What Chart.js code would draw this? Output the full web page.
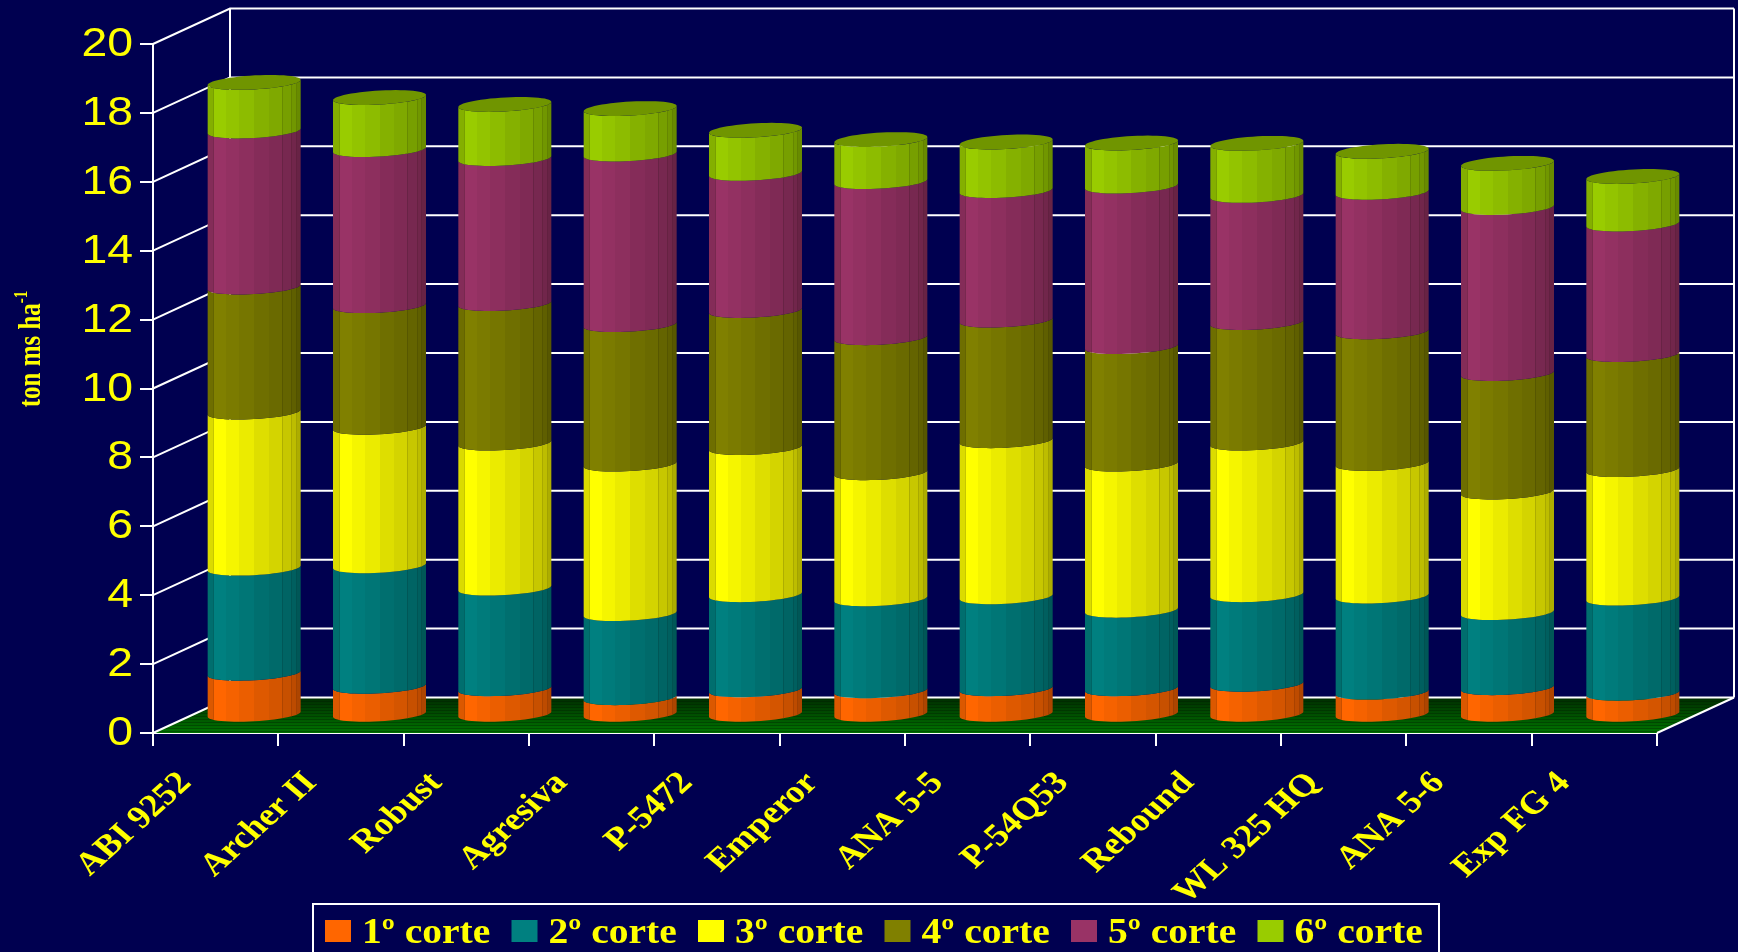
<!DOCTYPE html>
<html>
<head>
<meta charset="utf-8">
<title>Producción por corte</title>
<script src="https://cdn.jsdelivr.net/npm/chart.js@4"></script>
<style>
  html, body { margin: 0; padding: 0; background: #000050; overflow: hidden; }
  canvas { display: block; }
</style>
</head>
<body>
<canvas id="grafico" width="1738" height="952"></canvas>
<script>
const variedades = ["ABI 9252", "Archer II", "Robust", "Agresiva", "P-5472", "Emperor", "ANA 5-5", "P-54Q53", "Rebound", "WL 325 HQ", "ANA 5-6", "Exp FG 4"];
const corte1 = [1.22, 0.84, 0.77, 0.51, 0.74, 0.71, 0.77, 0.77, 0.90, 0.67, 0.80, 0.64];
const corte2 = [3.05, 3.50, 2.92, 2.44, 2.76, 2.67, 2.67, 2.28, 2.60, 2.79, 2.18, 2.76];
const corte3 = [4.53, 4.02, 4.21, 4.34, 4.27, 3.66, 4.53, 4.24, 4.40, 3.85, 3.50, 3.73];
const corte4 = [3.63, 3.53, 4.05, 4.05, 3.98, 3.92, 3.50, 3.41, 3.50, 3.82, 3.44, 3.34];
const corte5 = [4.53, 4.53, 4.21, 4.95, 3.98, 4.53, 3.76, 4.66, 3.69, 4.05, 4.82, 3.79];
const corte6 = [1.41, 1.51, 1.57, 1.32, 1.25, 1.22, 1.41, 1.25, 1.51, 1.19, 1.28, 1.38];
const nombres = ["1º corte", "2º corte", "3º corte", "4º corte", "5º corte", "6º corte"];
const colores = ["#FF6600", "#008080", "#FFFF00", "#808000", "#993366", "#99CC00"];
const tituloY = "ton ms ha";
const supTituloY = "-1";

const AMARILLO = "#FFFF00";
// vector de profundidad del grafico 3D
const fondoX = 77;
const fondoY = -35.5;
const radioFondo = 0.21;
// bandas de sombreado de cada cilindro (fraccion del ancho, brillo)
const cortesBanda = [0, 0.06, 0.2, 0.34, 0.5, 0.66, 0.8, 0.9, 0.95, 1];
const brillos = [0.86, 1, 0.96, 0.92, 0.87, 0.83, 0.78, 0.74, 0.68];

function oscurecer(hex, k) {
  const n = parseInt(hex.slice(1), 16);
  const r = Math.round(((n >> 16) & 255) * k);
  const g = Math.round(((n >> 8) & 255) * k);
  const b = Math.round((n & 255) * k);
  return "rgb(" + r + "," + g + "," + b + ")";
}

// punto del contorno de la elipse (circulo visto en proyeccion oblicua)
function puntoElipse(cx, cy, R, t) {
  return {
    x: cx + R * Math.cos(t) + fondoX * radioFondo * Math.sin(t),
    y: cy + fondoY * radioFondo * Math.sin(t),
  };
}

function dibujarCilindro(ctx, bar, color, esTope) {
  const cx = bar.x + fondoX / 2;
  const yBase = bar.base + fondoY / 2;
  const yTope = bar.y + fondoY / 2;
  const mitad = bar.width / 2;
  const prof = fondoX * radioFondo;
  const R = Math.sqrt(mitad * mitad - prof * prof);
  const tIni = Math.atan2(prof, R); // tangente derecha
  const x0 = cx - mitad;
  const ancho = bar.width;

  const grad = ctx.createLinearGradient(x0, 0, x0 + ancho, 0);
  brillos.forEach((b, i) => {
    grad.addColorStop(cortesBanda[i], oscurecer(color, b));
    grad.addColorStop(cortesBanda[i + 1], oscurecer(color, b));
  });

  // cuerpo: arco frontal abajo, mismo arco arriba
  const pasos = 28;
  ctx.beginPath();
  for (let i = 0; i <= pasos; i++) {
    const p = puntoElipse(cx, yBase, R, tIni - (Math.PI * i) / pasos);
    if (i === 0) ctx.moveTo(p.x, p.y);
    else ctx.lineTo(p.x, p.y);
  }
  for (let i = pasos; i >= 0; i--) {
    const q = puntoElipse(cx, yTope, R, tIni - (Math.PI * i) / pasos);
    ctx.lineTo(q.x, q.y);
  }
  ctx.closePath();
  ctx.fillStyle = grad;
  ctx.fill();

  // lineas verticales finas de las facetas
  ctx.save();
  ctx.clip();
  ctx.strokeStyle = oscurecer(color, 0.6);
  ctx.globalAlpha = 0.55;
  ctx.lineWidth = 1;
  [0.06, 0.8, 0.9, 0.95].forEach((c) => {
    const x = Math.round(x0 + ancho * c) + 0.5;
    ctx.beginPath();
    ctx.moveTo(x, yBase + 20);
    ctx.lineTo(x, yTope - 20);
    ctx.stroke();
  });
  ctx.restore();

  if (esTope) {
    ctx.beginPath();
    for (let i = 0; i <= 56; i++) {
      const p = puntoElipse(cx, yTope, R, (Math.PI * i) / 28);
      if (i === 0) ctx.moveTo(p.x, p.y);
      else ctx.lineTo(p.x, p.y);
    }
    ctx.closePath();
    ctx.fillStyle = oscurecer(color, 0.73);
    ctx.fill();
  }
}

// el original tiene los textos estirados a lo ancho
function textoEstirado(ctx, texto, x, y, estira, angulo) {
  ctx.save();
  ctx.translate(x, y);
  ctx.scale(estira, 1);
  ctx.rotate(angulo);
  ctx.fillText(texto, 0, 0);
  ctx.restore();
}

const escena3d = {
  id: "escena3d",
  beforeDatasetsDraw(chart) {
    const { ctx, chartArea, scales } = chart;
    const y = scales.y;
    const izq = chartArea.left;
    const der = chartArea.right;
    const piso = y.getPixelForValue(0);
    ctx.save();

    // piso
    const verde = ctx.createLinearGradient(0, piso + fondoY, 0, piso);
    verde.addColorStop(0, "#002c00");
    verde.addColorStop(1, "#007400");
    ctx.beginPath();
    ctx.moveTo(izq, piso);
    ctx.lineTo(der, piso);
    ctx.lineTo(der + fondoX, piso + fondoY);
    ctx.lineTo(izq + fondoX, piso + fondoY);
    ctx.closePath();
    ctx.fillStyle = verde;
    ctx.fill();
    ctx.save();
    ctx.clip();
    ctx.strokeStyle = "rgba(0,30,0,0.35)";
    ctx.lineWidth = 1;
    for (let f = piso + fondoY; f < piso; f += 3) {
      ctx.beginPath();
      ctx.moveTo(izq, Math.round(f) + 0.5);
      ctx.lineTo(der + fondoX, Math.round(f) + 0.5);
      ctx.stroke();
    }
    ctx.restore();

    // rejilla: pared lateral y pared del fondo
    ctx.strokeStyle = "#FFFFFF";
    ctx.lineWidth = 2;
    y.ticks.forEach((tick) => {
      const py = y.getPixelForValue(tick.value);
      ctx.beginPath();
      ctx.moveTo(izq, py);
      ctx.lineTo(izq + fondoX, py + fondoY);
      ctx.lineTo(der + fondoX, py + fondoY);
      ctx.stroke();
    });
    const yAlto = y.getPixelForValue(20);
    ctx.beginPath();
    ctx.moveTo(izq + fondoX, piso + fondoY);
    ctx.lineTo(izq + fondoX, yAlto + fondoY);
    ctx.moveTo(der + fondoX, piso + fondoY);
    ctx.lineTo(der + fondoX, yAlto + fondoY);
    ctx.moveTo(der, piso);
    ctx.lineTo(der + fondoX, piso + fondoY);
    ctx.stroke();
    ctx.restore();
  },
  beforeDatasetDraw() {
    return false; // las columnas se dibujan como cilindros mas abajo
  },
  afterDatasetsDraw(chart) {
    const { ctx } = chart;
    ctx.save();
    chart.data.datasets.forEach((ds, i) => {
      chart.getDatasetMeta(i).data.forEach((bar) => {
        dibujarCilindro(ctx, bar, colores[i], i === chart.data.datasets.length - 1);
      });
    });
    ctx.restore();
  },
  afterDraw(chart) {
    const { ctx, scales } = chart;
    ctx.save();
    ctx.fillStyle = AMARILLO;

    // etiquetas del eje Y
    ctx.font = "40px 'Liberation Sans'";
    ctx.textAlign = "right";
    ctx.textBaseline = "middle";
    scales.y.ticks.forEach((tick) => {
      textoEstirado(ctx, String(tick.value), 133, scales.y.getPixelForValue(tick.value) + 1, 1.16, 0);
    });

    // etiquetas del eje X
    ctx.font = "bold 32px 'Liberation Serif'";
    variedades.forEach((nombre, i) => {
      textoEstirado(ctx, nombre, scales.x.getPixelForValue(i) - 30, 778, 1.15, -Math.PI / 4 - 0.02);
    });

    // titulo del eje Y con superindice
    ctx.textAlign = "left";
    ctx.textBaseline = "alphabetic";
    ctx.font = "bold 25px 'Liberation Serif'";
    const w1 = ctx.measureText(tituloY).width;
    ctx.font = "bold 15px 'Liberation Serif'";
    const w2 = ctx.measureText(supTituloY).width;
    const ini = 349 + (w1 + w2) / 2;
    ctx.font = "bold 25px 'Liberation Serif'";
    textoEstirado(ctx, tituloY, 40, ini, 1.25, -Math.PI / 2);
    ctx.font = "bold 15px 'Liberation Serif'";
    textoEstirado(ctx, supTituloY, 27, ini - w1, 1.25, -Math.PI / 2);

    // leyenda
    ctx.strokeStyle = "#FFFFFF";
    ctx.lineWidth = 2;
    ctx.strokeRect(313, 904, 1126, 70);
    ctx.font = "bold 35px 'Liberation Serif'";
    nombres.forEach((nombre, i) => {
      const x = 325 + 186.5 * i;
      ctx.fillStyle = colores[i];
      ctx.fillRect(x, 920, 26, 22);
      ctx.fillStyle = AMARILLO;
      textoEstirado(ctx, nombre, x + 37, 943, 1.13, 0);
    });
    ctx.restore();
  },
};

new Chart(document.getElementById("grafico"), {
  type: "bar",
  data: {
    labels: variedades,
    datasets: [corte1, corte2, corte3, corte4, corte5, corte6].map((valores, i) => ({
      label: nombres[i],
      data: valores,
      backgroundColor: colores[i],
      borderWidth: 0,
      barPercentage: 0.742,
      categoryPercentage: 1,
    })),
  },
  plugins: [escena3d],
  options: {
    responsive: false,
    animation: false,
    devicePixelRatio: 1,
    layout: { padding: { top: 44, left: 0, right: 81, bottom: 0 } },
    plugins: {
      tooltip: { enabled: false },
      legend: { display: false },
    },
    scales: {
      x: {
        stacked: true,
        grid: { drawOnChartArea: false, color: "#FFFFFF", lineWidth: 2, tickLength: 13 },
        border: { color: "#FFFFFF", width: 2 },
        ticks: { display: false },
        afterFit(scale) {
          scale.height = 219;
        },
      },
      y: {
        stacked: true,
        min: 0,
        max: 20,
        grid: { drawOnChartArea: false, color: "#FFFFFF", lineWidth: 2, tickLength: 13 },
        border: { color: "#FFFFFF", width: 2 },
        ticks: { display: false, stepSize: 2 },
        afterFit(scale) {
          scale.width = 153;
        },
      },
    },
  },
});
</script>
</body>
</html>
